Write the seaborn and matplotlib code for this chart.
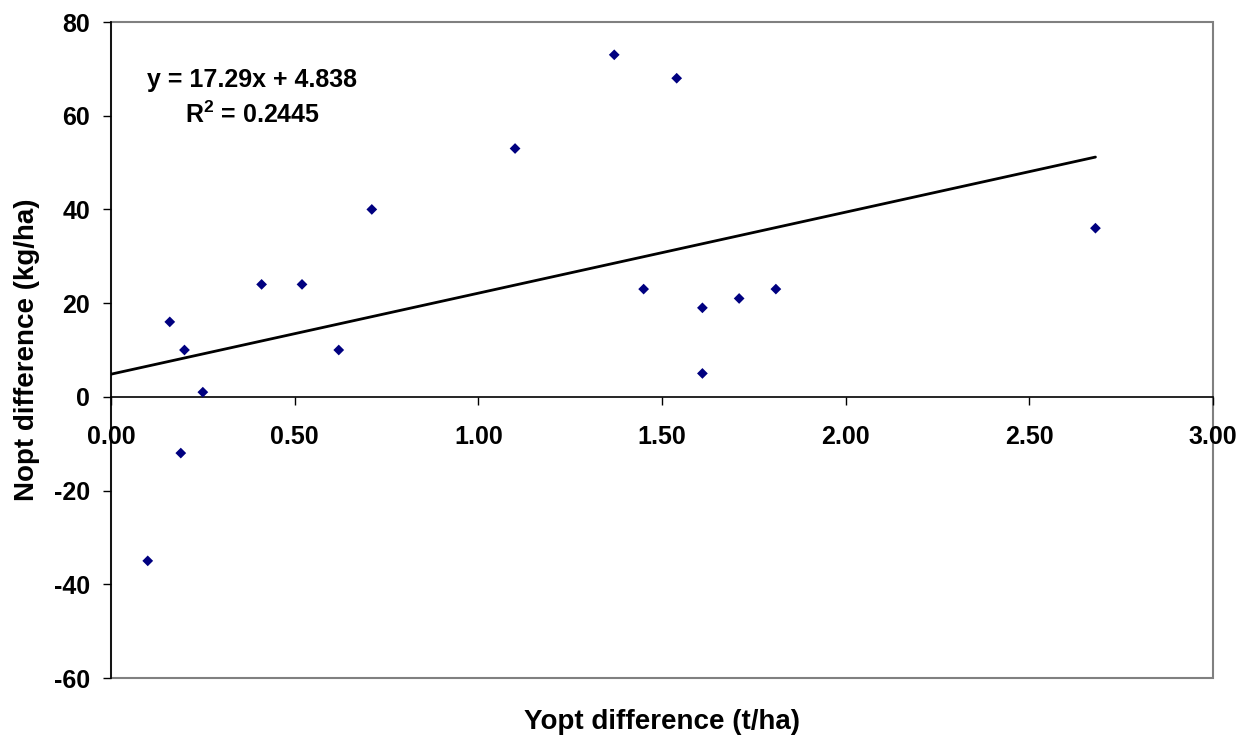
import numpy as np
import pandas as pd
import matplotlib
matplotlib.use("Agg")
import matplotlib.pyplot as plt
import seaborn as sns
from matplotlib.patches import Rectangle

# values
yopt_diff = [0.10, 0.16, 0.20, 0.19, 0.25, 0.41, 0.52, 0.62, 0.71, 1.10,
             1.37, 1.45, 1.54, 1.61, 1.61, 1.71, 1.81, 2.68]
nopt_diff = [-35, 16, 10, -12, 1, 24, 24, 10, 40, 53,
             73, 23, 68, 19, 5, 21, 23, 36]
slope, intercept, r2 = 17.29, 4.838, 0.2445
x_ticks = [0.0, 0.5, 1.0, 1.5, 2.0, 2.5, 3.0]
y_ticks = [-60, -40, -20, 0, 20, 40, 60, 80]

df = pd.DataFrame({"x": yopt_diff, "y": nopt_diff})
trend = pd.DataFrame({"x": [0.0, max(yopt_diff)]})
trend["y"] = slope * trend["x"] + intercept

sns.set_style("white")
plt.rcParams["font.family"] = ["Liberation Sans", "DejaVu Sans"]
plt.rcParams["font.weight"] = "bold"
plt.rcParams["text.color"] = "black"
plt.rcParams["axes.labelcolor"] = "black"
plt.rcParams["xtick.color"] = "black"
plt.rcParams["ytick.color"] = "black"
plt.rcParams["mathtext.fontset"] = "custom"
plt.rcParams["mathtext.bf"] = "Liberation Sans:bold"
plt.rcParams["mathtext.rm"] = "Liberation Sans:bold"
plt.rcParams["mathtext.default"] = "bf"

fig = plt.figure(figsize=(12.46, 7.38), dpi=100)
ax = fig.add_axes([111/1246, 1-678/738, 1102/1246, 656/738])

sns.lineplot(data=trend, x="x", y="y", color="black", linewidth=2.0, ax=ax)
sns.scatterplot(data=df, x="x", y="y", marker="D", s=30, color="#000080",
                edgecolor="none", ax=ax, zorder=3)

ax.set_xlim(0, 3)
ax.set_ylim(-60, 80)
ax.set_xticks(x_ticks)
ax.set_xticklabels([f"{v:.2f}" for v in x_ticks])
ax.set_yticks(y_ticks)
ax.set_yticklabels([str(v) for v in y_ticks])

# plot-area frame in grey, axes lines in black
for s in ["top", "right"]:
    ax.spines[s].set_visible(False)
ax.spines["bottom"].set_position(("data", 0))
ax.spines["bottom"].set_color("black")
ax.spines["left"].set_color("black")
ax.spines["bottom"].set_linewidth(1.2)
ax.spines["left"].set_linewidth(1.2)
ax.add_patch(Rectangle((0, 0), 1, 1, transform=ax.transAxes, fill=False,
                       edgecolor="#808080", linewidth=1.5, clip_on=False, zorder=0))

ax.tick_params(axis="both", which="major", direction="out", length=6, width=1,
               color="black", labelsize=18, bottom=True, left=True)
ax.tick_params(axis="x", pad=14)
ax.tick_params(axis="y", pad=9)

ax.set_xlabel("Yopt difference (t/ha)", fontsize=20, fontweight="bold")
ax.set_ylabel("Nopt difference (kg/ha)", fontsize=20, fontweight="bold")
ax.xaxis.set_label_coords(0.5, -0.067)
ax.xaxis.label.set_va("center")
ax.yaxis.set_label_coords(-0.076, 0.5)
ax.yaxis.label.set_va("center")

ax.text(0.384, 67.6, f"y = {slope}x + {intercept}", ha="center", va="center",
        fontsize=18, fontweight="bold")
ax.text(0.384, 60.2, f"R$^{{2}}$ = {r2}", ha="center", va="center",
        fontsize=18, fontweight="bold")

fig.savefig("out.png", dpi=100)
